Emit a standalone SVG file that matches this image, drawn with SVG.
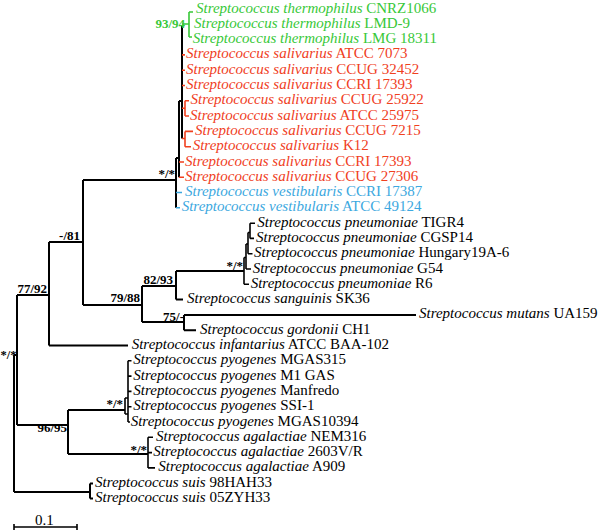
<svg xmlns="http://www.w3.org/2000/svg" width="600" height="532" viewBox="0 0 600 532">
<style>
  .lab{font-family:"Liberation Serif","Times New Roman",serif;font-size:15px;fill:#000}
  .it{font-style:italic}
  .gr{fill:#38c838}
  .rd{fill:#f0401e}
  .bl{fill:#3ca8e0}
  .bs{font-family:"Liberation Serif","Times New Roman",serif;font-size:13px;font-weight:bold;fill:#000;text-anchor:end}
  .k{stroke:#000;stroke-width:2;fill:none}
  .kg{stroke:#38c838;stroke-width:1.6;fill:none}
  .kr{stroke:#f0401e;stroke-width:1.6;fill:none}
  .kb{stroke:#3ca8e0;stroke-width:1.6;fill:none}
  .k1{stroke:#000;stroke-width:1.6;fill:none}
</style>
<rect width="600" height="532" fill="#fff"/>
<g id="connectors">
  <path class="k" d="M14,355V492M14,355H17M14,492H90"/>
  <path class="k" d="M90,483.5V498.5M90,483.5H93M90,498.5H93"/>
  <path class="k" d="M17,295V425M17,295H49M17,425H68"/>
  <path class="k" d="M49,242V345.5M49,242H83M49,345.5H128"/>
  <path class="k" d="M83,180V305M83,180H176M83,305H142"/>
  <path class="k" d="M142,286V322M142,286H176M142,322H184"/>
  <path class="k" d="M176,271V299.5M176,271H244M176,299.5H183"/>
  <path class="k" d="M184,315V330.2M184,315H416M184,330.2H196"/>
  <path class="k1" d="M244,257.5V284.3M244,284.3H249M244,257.5H246"/>
  <path class="k1" d="M246,244V269M246,269H251M246,244H248"/>
  <path class="k1" d="M248,232.5V253.7M248,253.7H252.5M248,232.5H250"/>
  <path class="k1" d="M250,223.2V238.4M250,223.2H255M250,238.4H254"/>
  <path class="k" d="M176,158V207.8M176,158H179"/>
  <path class="kb" d="M176,192.5H182M176,207.8H180"/>
  <path class="k" d="M179,101V177.2M179,101H182"/>
  <path class="kr" d="M179,162H184M179,177.2H184"/>
  <path class="k" d="M182,25V138.5"/>
  <path class="kg" d="M182,24H189M189,12V37M189,12H193M189,37H192"/>
  <path class="kr" d="M182,54.9H185M182,70.2H185M182,85.5H185M182,108.3H185M182,138.5H185"/>
  <path class="kr" d="M185,100.8V116M185,100.8H189M185,116H189"/>
  <path class="kr" d="M185,131.4V146.7M185,131.4H193M185,146.7H191"/>
  <path class="k" d="M68,410V454M68,410H125M68,454H148"/>
  <path class="k1" d="M125,398V414M125,398H128M125,414H128"/>
  <path class="k1" d="M128,360.8V422M128,360.8H131.5M128,376.1H131.5M128,391.4H131.5M128,406.7H131.5M128,422H130"/>
  <path class="k1" d="M148,437.3V467.9M148,437.3H153M148,452.6H152M148,467.9H155"/>
</g>
<g id="support">
  <text class="bs" x="185" y="28" style="fill:#38c838">93/94</text>
  <text class="bs" x="175" y="178">*/*</text>
  <text class="bs" x="80" y="239.5">-/81</text>
  <text class="bs" x="47" y="292.5">77/92</text>
  <text class="bs" x="140" y="301.5">79/88</text>
  <text class="bs" x="173" y="283.5">82/93</text>
  <text class="bs" x="243" y="269.5">*/*</text>
  <text class="bs" x="184" y="320.5">75/-</text>
  <text class="bs" x="16.5" y="359" style="font-size:12.5px">*/*</text>
  <text class="bs" x="123" y="408">*/*</text>
  <text class="bs" x="67" y="432">96/95</text>
  <text class="bs" x="147" y="454">*/*</text>
</g>
<g id="n01"><text class="lab gr" x="196" y="12.5"><tspan class="it">Streptococcus thermophilus</tspan> CNRZ1066</text></g>
<g id="n02"><text class="lab gr" x="194" y="27.8"><tspan class="it">Streptococcus thermophilus</tspan> LMD-9</text></g>
<g id="n03"><text class="lab gr" x="192.7" y="43.1"><tspan class="it">Streptococcus thermophilus</tspan> LMG 18311</text></g>
<g id="n04"><text class="lab rd" x="186" y="58.4"><tspan class="it">Streptococcus salivarius</tspan> ATCC 7073</text></g>
<g id="n05"><text class="lab rd" x="186" y="73.7"><tspan class="it">Streptococcus salivarius</tspan> CCUG 32452</text></g>
<g id="n06"><text class="lab rd" x="186" y="89"><tspan class="it">Streptococcus salivarius</tspan> CCRI 17393</text></g>
<g id="n07"><text class="lab rd" x="190.5" y="104.3"><tspan class="it">Streptococcus salivarius</tspan> CCUG 25922</text></g>
<g id="n08"><text class="lab rd" x="190" y="119.6"><tspan class="it">Streptococcus salivarius</tspan> ATCC 25975</text></g>
<g id="n09"><text class="lab rd" x="195" y="134.9"><tspan class="it">Streptococcus salivarius</tspan> CCUG 7215</text></g>
<g id="n10"><text class="lab rd" x="192.7" y="150.2"><tspan class="it">Streptococcus salivarius</tspan> K12</text></g>
<g id="n11"><text class="lab rd" x="185" y="165.5"><tspan class="it">Streptococcus salivarius</tspan> CCRI 17393</text></g>
<g id="n12"><text class="lab rd" x="185" y="180.8"><tspan class="it">Streptococcus salivarius</tspan> CCUG 27306</text></g>
<g id="n13"><text class="lab bl" x="185" y="196.1"><tspan class="it">Streptococcus vestibularis</tspan> CCRI 17387</text></g>
<g id="n14"><text class="lab bl" x="181.7" y="211.4"><tspan class="it">Streptococcus vestibularis</tspan> ATCC 49124</text></g>
<g id="n15"><text class="lab" x="257.3" y="226.7"><tspan class="it">Streptococcus pneumoniae</tspan> TIGR4</text></g>
<g id="n16"><text class="lab" x="256" y="242"><tspan class="it">Streptococcus pneumoniae</tspan> CGSP14</text></g>
<g id="n17"><text class="lab" x="254" y="257.3"><tspan class="it">Streptococcus pneumoniae</tspan> Hungary19A-6</text></g>
<g id="n18"><text class="lab" x="252.7" y="272.6"><tspan class="it">Streptococcus pneumoniae</tspan> G54</text></g>
<g id="n19"><text class="lab" x="250.7" y="287.9"><tspan class="it">Streptococcus pneumoniae</tspan> R6</text></g>
<g id="n20"><text class="lab" x="187" y="303.1"><tspan class="it">Streptococcus sanguinis</tspan> SK36</text></g>
<g id="n21"><text class="lab" x="419" y="318.4"><tspan class="it">Streptococcus mutans</tspan> UA159</text></g>
<g id="n22"><text class="lab" x="200" y="333.7"><tspan class="it">Streptococcus gordonii</tspan> CH1</text></g>
<g id="n23"><text class="lab" x="131.7" y="349"><tspan class="it">Streptococcus infantarius</tspan> ATCC BAA-102</text></g>
<g id="n24"><text class="lab" x="133.3" y="364.3"><tspan class="it">Streptococcus pyogenes</tspan> MGAS315</text></g>
<g id="n25"><text class="lab" x="133.3" y="379.6"><tspan class="it">Streptococcus pyogenes</tspan> M1 GAS</text></g>
<g id="n26"><text class="lab" x="133.3" y="394.9"><tspan class="it">Streptococcus pyogenes</tspan> Manfredo</text></g>
<g id="n27"><text class="lab" x="133.3" y="410.2"><tspan class="it">Streptococcus pyogenes</tspan> SSI-1</text></g>
<g id="n28"><text class="lab" x="130.7" y="425.5"><tspan class="it">Streptococcus pyogenes</tspan> MGAS10394</text></g>
<g id="n29"><text class="lab" x="156" y="440.8"><tspan class="it">Streptococcus agalactiae</tspan> NEM316</text></g>
<g id="n30"><text class="lab" x="153.3" y="456.1"><tspan class="it">Streptococcus agalactiae</tspan> 2603V/R</text></g>
<g id="n31"><text class="lab" x="158.3" y="471.4"><tspan class="it">Streptococcus agalactiae</tspan> A909</text></g>
<g id="n32"><text class="lab" x="95" y="486.7"><tspan class="it">Streptococcus suis</tspan> 98HAH33</text></g>
<g id="n33"><text class="lab" x="95" y="502"><tspan class="it">Streptococcus suis</tspan> 05ZYH33</text></g>
<g id="scale">
  <text class="lab" x="35" y="524.5">0.1</text>
  <path class="k1" d="M14,524V530M14,527H77M77,524V530"/>
</g>
</svg>
